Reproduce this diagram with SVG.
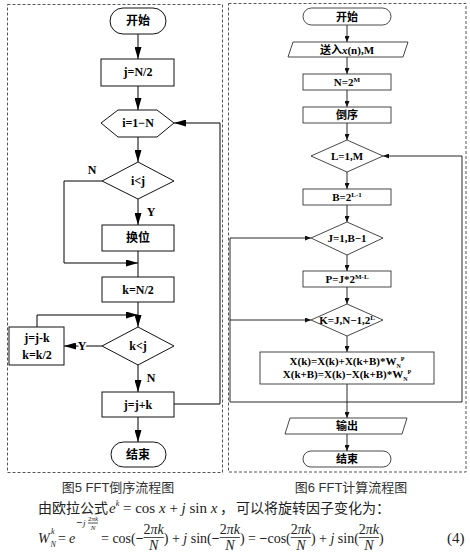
<svg xmlns="http://www.w3.org/2000/svg" width="470" height="557" viewBox="0 0 470 557">
<style>
.panel{fill:none;stroke:#555;stroke-width:1;stroke-dasharray:3 2}
.ln{fill:#fff;stroke:#111;stroke-width:1}
.rn{fill:#fff;stroke:#333;stroke-width:0.9}
.e{fill:none;stroke:#000;stroke-width:1}
.re{fill:none;stroke:#111;stroke-width:0.9}
.lt{font-family:"Liberation Serif","Noto Sans CJK SC",serif;font-weight:bold;font-size:12px;text-anchor:middle;fill:#000}
.rt{font-family:"Liberation Serif","Noto Sans CJK SC",serif;font-weight:bold;font-size:11px;text-anchor:middle;fill:#000}
.lbl{font-family:"Liberation Serif",serif;font-weight:bold;font-size:12px;text-anchor:middle;fill:#000}
.cap{font-family:"Liberation Sans","Noto Sans CJK SC",sans-serif;font-size:13px;text-anchor:middle;fill:#333}
.p{font-family:"Liberation Serif","Noto Sans CJK SC",serif;font-size:14px;fill:#222}
.m{font-family:"Liberation Serif",serif;font-size:14px;fill:#222}
.mi{font-family:"Liberation Serif",serif;font-size:14px;font-style:italic;fill:#222}
.c{text-anchor:middle}
.bar{stroke:#222;stroke-width:0.8}
</style>
<defs>
<marker id="ah" viewBox="0 0 12 7" refX="12" refY="3.5" markerWidth="12" markerHeight="7" markerUnits="userSpaceOnUse" orient="auto"><path d="M0,0 L12,3.5 L0,7 z" fill="#000"/></marker>
<marker id="as" viewBox="0 0 6 5" refX="6" refY="2.5" markerWidth="6" markerHeight="5" markerUnits="userSpaceOnUse" orient="auto"><path d="M0,0 L6,2.5 L0,5 z" fill="#111"/></marker>
</defs>
<rect width="470" height="557" fill="#fff"/>
<rect class="panel" x="7.5" y="4.5" width="215" height="468"/>
<rect class="panel" x="228.5" y="3.5" width="237.5" height="468.5"/>

<g id="connectors">
<path class="e" d="M138,34 V59" marker-end="url(#ah)"/>
<path class="e" d="M138,86 V110" marker-end="url(#ah)"/>
<path class="e" d="M138,137 V162" marker-end="url(#ah)"/>
<path class="e" d="M138,199 V225" marker-end="url(#ah)"/>
<path class="e" d="M102,181 H64 V263 H138" marker-end="url(#ah)"/>
<path class="e" d="M138,251 V277"/>
<path class="e" d="M138,302 V327" marker-end="url(#ah)"/>
<path class="e" d="M37,327 V315 H138" marker-end="url(#ah)"/>
<path class="e" d="M102,346 H64" marker-end="url(#ah)"/>
<path class="e" d="M138,365 V392" marker-end="url(#ah)"/>
<path class="e" d="M138,417 V442" marker-end="url(#ah)"/>
<path class="e" d="M174,404 H220 V123 H174" marker-end="url(#ah)"/>
<path class="re" d="M347,25 V42" marker-end="url(#as)"/>
<path class="re" d="M347,57 V74" marker-end="url(#as)"/>
<path class="re" d="M347,90 V107" marker-end="url(#as)"/>
<path class="re" d="M347,123 V140" marker-end="url(#as)"/>
<path class="re" d="M347,172 V189" marker-end="url(#as)"/>
<path class="re" d="M347,205 V222" marker-end="url(#as)"/>
<path class="re" d="M347,255 V271" marker-end="url(#as)"/>
<path class="re" d="M347,287 V304" marker-end="url(#as)"/>
<path class="re" d="M347,336 V352" marker-end="url(#as)"/>
<path class="re" d="M347,384 V418" marker-end="url(#as)"/>
<path class="re" d="M347,434 V451" marker-end="url(#as)"/>
<path class="re" d="M230,402 H462"/>
<path class="re" d="M230,402 V238 H311" marker-end="url(#as)"/>
<path class="re" d="M230,320 H311" marker-end="url(#as)"/>
<path class="re" d="M462,402 V156 H383" marker-end="url(#as)"/>
<text class="lbl" x="92" y="174">N</text>
<text class="lbl" x="151" y="216">Y</text>
<text class="lbl" x="82" y="350" stroke="#fff" stroke-width="4" paint-order="stroke">Y</text>
<text class="lbl" x="151" y="382">N</text>
</g>

<g id="l-start"><rect class="ln" x="110" y="8" width="56" height="26" rx="13"/><text class="lt" x="138" y="25">开始</text></g>
<g id="l-j"><rect class="ln" x="101" y="59" width="73" height="27"/><text class="lt" x="138" y="76">j=N/2</text></g>
<g id="l-loop"><polygon class="ln" points="101,123 118,110 157,110 174,123 157,137 118,137"/><text class="lt" x="138" y="127">i=1−N</text></g>
<g id="l-cmp"><polygon class="ln" points="138,162 174,181 138,199 102,181"/><text class="lt" x="138" y="185">i&lt;j</text></g>
<g id="l-swap"><rect class="ln" x="102" y="225" width="72" height="26"/><text class="lt" x="138" y="242">换位</text></g>
<g id="l-k"><rect class="ln" x="102" y="277" width="72" height="25"/><text class="lt" x="138" y="294">k=N/2</text></g>
<g id="l-kcmp"><polygon class="ln" points="138,327 174,346 138,365 102,346"/><text class="lt" x="138" y="350">k&lt;j</text></g>
<g id="l-upd"><rect class="ln" x="9" y="327" width="55" height="38"/><text class="lt" x="37" y="342">j=j-k</text><text class="lt" x="37" y="359">k=k/2</text></g>
<g id="l-add"><rect class="ln" x="102" y="392" width="72" height="25"/><text class="lt" x="138" y="409">j=j+k</text></g>
<g id="l-end"><rect class="ln" x="111" y="442" width="55" height="25" rx="12.5"/><text class="lt" x="138" y="459">结束</text></g>

<g id="r-start"><rect class="rn" x="303" y="8" width="88" height="17" rx="8.5"/><text class="rt" x="347" y="20.5">开始</text></g>
<g id="r-in"><polygon class="rn" points="293,42 408,42 403,57 288,57"/><text class="rt" x="347" y="53.5">送入<tspan font-style="italic">x</tspan>(n),M</text></g>
<g id="r-n"><rect class="rn" x="303" y="74" width="88" height="16"/><text class="rt" x="347" y="86">N=2<tspan font-size="7" dy="-4">M</tspan></text></g>
<g id="r-rev"><rect class="rn" x="303" y="107" width="88" height="16"/><text class="rt" x="347" y="119">倒序</text></g>
<g id="r-L"><polygon class="rn" points="347,140 383,156 347,172 311,156"/><text class="rt" x="347" y="160">L=1,M</text></g>
<g id="r-B"><rect class="rn" x="303" y="189" width="88" height="16"/><text class="rt" x="347" y="201">B=2<tspan font-size="7" dy="-4">L-1</tspan></text></g>
<g id="r-J"><polygon class="rn" points="347,222 383,238 347,255 311,238"/><text class="rt" x="347" y="242">J=1,B−1</text></g>
<g id="r-P"><rect class="rn" x="303" y="271" width="88" height="16"/><text class="rt" x="347" y="283">P=J*2<tspan font-size="7" dy="-4">M-L</tspan></text></g>
<g id="r-K"><polygon class="rn" points="347,304 383,320 347,336 311,320"/><text class="rt" x="347" y="324">K=J,N−1,2<tspan font-size="7" dy="-4">L</tspan></text></g>
<g id="r-bf"><rect class="rn" x="260" y="352" width="174" height="32"/>
<text class="rt" x="347" y="365">X(k)=X(k)+X(k+B)*W<tspan font-size="6" dy="3">N</tspan><tspan font-size="6" dy="-7">P</tspan></text>
<text class="rt" x="347" y="378">X(k+B)=X(k)−X(k+B)*W<tspan font-size="6" dy="3">N</tspan><tspan font-size="6" dy="-7">P</tspan></text></g>
<g id="r-out"><polygon class="rn" points="290,418 407,418 402,434 285,434"/><text class="rt" x="347" y="430">输出</text></g>
<g id="r-end"><rect class="rn" x="303" y="451" width="88" height="16" rx="8"/><text class="rt" x="347" y="463">结束</text></g>

<text class="cap" x="118" y="492">图5 FFT倒序流程图</text>
<text class="cap" x="351" y="492">图6 FFT计算流程图</text>

<g id="para">
<text class="p" x="38" y="513">由欧拉公式</text>
<text class="mi" x="109" y="513" style="font-size:15px">e<tspan font-size="8" dy="-7">k</tspan></text>
<text class="m" x="123" y="513" style="font-size:15px">= cos<tspan font-style="italic"> x</tspan> + <tspan font-style="italic">j</tspan> sin<tspan font-style="italic"> x</tspan></text>
<text class="p" x="220" y="513">，</text>
<text class="p" x="236" y="513">可以将旋转因子变化为：</text>
</g>
<g id="formula">
<text class="mi" x="38" y="543">W</text>
<text class="mi" x="51" y="534" style="font-size:8px">k</text>
<text class="mi" x="50.5" y="547" style="font-size:8px">N</text>
<text class="m" x="58" y="543">=</text>
<text class="mi" x="69" y="543">e</text>
<text class="m" x="76" y="526" style="font-size:11px;font-weight:bold">−</text>
<text class="mi" x="83" y="526" style="font-size:9px">j</text>
<text class="m c" x="93" y="521" style="font-size:7px">2<tspan font-style="italic">πk</tspan></text>
<line class="bar" x1="88" y1="523" x2="98" y2="523" stroke-width="0.5"/>
<text class="mi c" x="93" y="530" style="font-size:7px">N</text>
<text class="m" x="101" y="543">= cos(</text>
<text class="m" x="135.7" y="543" style="font-weight:bold">−</text>
<text class="m c" x="153.7" y="534">2<tspan font-style="italic">πk</tspan></text>
<line class="bar" x1="143.6" y1="537.5" x2="163.8" y2="537.5"/>
<text class="mi c" x="153.7" y="550">N</text>
<text class="m" x="163.8" y="543">) + <tspan font-style="italic">j</tspan> sin(</text>
<text class="m" x="211.8" y="543" style="font-weight:bold">−</text>
<text class="m c" x="229.8" y="534">2<tspan font-style="italic">πk</tspan></text>
<line class="bar" x1="219.7" y1="537.5" x2="239.9" y2="537.5"/>
<text class="mi c" x="229.8" y="550">N</text>
<text class="m" x="239.9" y="543">) = <tspan font-weight="bold">−</tspan>cos(</text>
<text class="m c" x="300.8" y="534">2<tspan font-style="italic">πk</tspan></text>
<line class="bar" x1="290.7" y1="537.5" x2="310.9" y2="537.5"/>
<text class="mi c" x="300.8" y="550">N</text>
<text class="m" x="310.9" y="543">) + <tspan font-style="italic">j</tspan> sin(</text>
<text class="m c" x="368.9" y="534">2<tspan font-style="italic">πk</tspan></text>
<line class="bar" x1="358.8" y1="537.5" x2="379" y2="537.5"/>
<text class="mi c" x="368.9" y="550">N</text>
<text class="m" x="379" y="543">)</text>
<text class="m" x="447" y="543" style="font-size:15px">(4)</text>
</g>
</svg>
